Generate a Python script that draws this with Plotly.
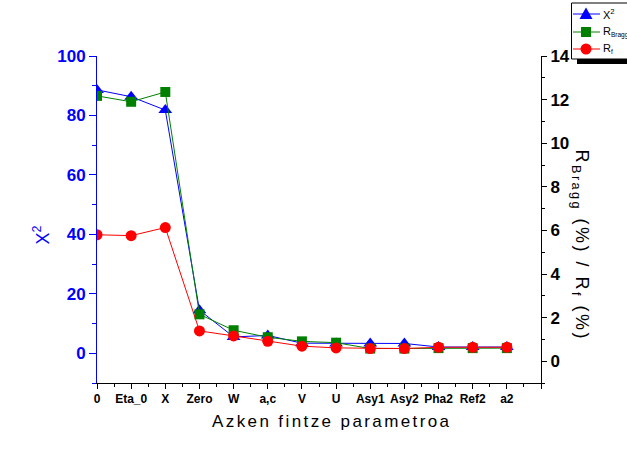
import plotly.graph_objects as go

# Refinement parameters (x axis categories)
categories = ["0", "Eta_0", "X", "Zero", "W", "a,c", "V", "U",
              "Asy1", "Asy2", "Pha2", "Ref2", "a2"]
# Goodness of fit chi^2 (left axis)
chi2 = [88.6, 86.3, 81.8, 14.5, 5.5, 6.0, 3.4, 3.3, 3.3, 3.3, 2.1, 2.1, 2.1]
# Agreement factors in % (right axis)
r_bragg = [12.17, 11.9, 12.35, 2.15, 1.42, 1.1, 0.91, 0.85, 0.58, 0.58, 0.6, 0.6, 0.6]
r_f = [5.8, 5.76, 6.13, 1.39, 1.16, 0.91, 0.69, 0.61, 0.58, 0.58, 0.64, 0.64, 0.64]
# Tick labels of the two value axes
chi2_ticks = [0, 20, 40, 60, 80, 100]
r_ticks = [0, 2, 4, 6, 8, 10, 12, 14]
# Series names
names = ["X<sup>2</sup>", "R<sub>Bragg</sub>", "R<sub>f</sub>"]
legend_names = ["X<sup>2</sup>",
                'R<sub><span style="font-size:6.5px">Bragg</span></sub>',
                'R<sub><span style="font-size:6.5px">f</span></sub>']

x = list(range(len(categories)))
x_alias = {i: f"<b>{c}</b>" for i, c in enumerate(categories)}
x_alias[len(categories)] = ""
y_alias = {v: f"<b>{v}</b>" for v in chi2_ticks}
y2_alias = {v: f"<b>{v}</b>" for v in r_ticks}

FONT = "Liberation Sans, Arial, sans-serif"
BLUE = "#0000FF"
GREEN = "#008000"
RED = "#FF0000"

fig = go.Figure()
fig.add_trace(go.Scatter(
    x=x, y=chi2, name=names[0], mode="lines+markers",
    line=dict(color=BLUE, width=1),
    marker=dict(symbol="triangle-up", size=12, color=BLUE),
    yaxis="y"))
fig.add_trace(go.Scatter(
    x=x, y=r_bragg, name=names[1], mode="lines+markers",
    line=dict(color=GREEN, width=1),
    marker=dict(symbol="square", size=10, color=GREEN),
    yaxis="y2"))
fig.add_trace(go.Scatter(
    x=x, y=r_f, name=names[2], mode="lines+markers",
    line=dict(color=RED, width=1),
    marker=dict(symbol="circle", size=11, color=RED),
    yaxis="y2"))

W, H = 627, 451
L, R, T, B = 97, 541, 56, 383
pw, ph = R - L, B - T


def px(v):
    return (v - L) / pw


def py(v):
    return (B - v) / ph


def spaced(text, sp):
    return f'<span style="letter-spacing:{sp}px">{text}</span>'


# Boxed legend with a drop shadow in the top-right corner
shapes = [
    dict(type="rect", xref="paper", yref="paper",
         x0=px(577), x1=px(640), y0=py(64), y1=py(8),
         fillcolor="black", line=dict(width=0), layer="above"),
    dict(type="rect", xref="paper", yref="paper",
         x0=px(571.5), x1=px(636), y0=py(59), y1=py(3),
         fillcolor="white", line=dict(color="black", width=1), layer="above"),
]
annotations = []
legend_rows = [14, 32, 49]
colors = [BLUE, GREEN, RED]
lx0, lx1, mx = 573, 600, 586
for row, col, name in zip(legend_rows, colors, legend_names):
    shapes.append(dict(type="line", xref="paper", yref="paper",
                       x0=px(lx0), x1=px(lx1), y0=py(row), y1=py(row),
                       line=dict(color=col, width=1), layer="above"))
    annotations.append(dict(text=name, xref="paper", yref="paper",
                            x=px(601), y=py(row), xanchor="left",
                            yanchor="middle", showarrow=False,
                            font=dict(size=11, color="black", family=FONT)))
# legend symbols: triangle, square, circle
r0, r1, r2 = legend_rows
shapes.append(dict(type="path", xref="paper", yref="paper",
                   path=(f"M {px(mx - 6.5)} {py(r0 + 5)} L {px(mx + 6.5)} {py(r0 + 5)} "
                         f"L {px(mx)} {py(r0 - 6.5)} Z"),
                   fillcolor=BLUE, line=dict(width=0), layer="above"))
shapes.append(dict(type="rect", xref="paper", yref="paper",
                   x0=px(mx - 5), x1=px(mx + 5), y0=py(r1 + 5), y1=py(r1 - 5),
                   fillcolor=GREEN, line=dict(width=0), layer="above"))
shapes.append(dict(type="circle", xref="paper", yref="paper",
                   x0=px(mx - 5.5), x1=px(mx + 5.5), y0=py(r2 + 5.5), y1=py(r2 - 5.5),
                   fillcolor=RED, line=dict(width=0), layer="above"))

annotations += [
    dict(text="X<sup>2</sup>", xref="paper", yref="paper",
         x=px(28), y=py(235), textangle=-90, showarrow=False,
         font=dict(size=18, color=BLUE, family=FONT)),
    dict(text=spaced("R<sub>Bragg</sub> (%) / R<sub>f</sub> (%)", 2.5),
         xref="paper", yref="paper", x=px(594), y=py(245),
         textangle=90, showarrow=False,
         font=dict(size=18, color="black", family=FONT)),
    dict(text=spaced("Azken fintze parametroa", 2.4), xref="paper", yref="paper",
         x=px(331), y=py(433), showarrow=False,
         font=dict(size=17, color="black", family=FONT)),
]

fig.update_layout(
    width=W, height=H,
    margin=dict(l=L, r=W - R, t=T, b=H - B, autoexpand=False),
    paper_bgcolor="white", plot_bgcolor="white",
    font=dict(family=FONT, color="black"),
    showlegend=False,
    xaxis=dict(
        range=[0, 13], tickmode="linear", tick0=0, dtick=1,
        labelalias=x_alias,
        showgrid=False, zeroline=False,
        showline=True, linecolor="black", linewidth=1,
        ticks="outside", ticklen=5, tickcolor="black",
        tickfont=dict(size=12, family=FONT),
        minor=dict(ticks="outside", ticklen=3, dtick=0.5, tick0=0,
                   tickcolor="black", showgrid=False),
    ),
    xaxis2=dict(
        overlaying="x", side="top", range=[0, 13],
        tickmode="linear", tick0=0, dtick=1,
        showticklabels=False, showgrid=False, zeroline=False,
        showline=True, linecolor="black", linewidth=1,
        ticks="inside", ticklen=5, tickcolor="black",
        minor=dict(ticks="inside", ticklen=3, dtick=0.5, tick0=0,
                   tickcolor="black", showgrid=False),
    ),
    yaxis=dict(
        range=[-10, 100], tickmode="linear", tick0=0, dtick=20,
        labelalias=y_alias,
        showgrid=False, zeroline=False,
        showline=True, linecolor=BLUE, linewidth=1,
        ticks="outside", ticklen=7, tickcolor=BLUE,
        tickfont=dict(size=17, family=FONT, color=BLUE),
        minor=dict(ticks="outside", ticklen=4, dtick=10, tick0=0,
                   tickcolor=BLUE, showgrid=False),
    ),
    yaxis2=dict(
        overlaying="y", side="right", range=[-1, 14],
        tickmode="linear", tick0=0, dtick=2,
        labelalias=y2_alias,
        showgrid=False, zeroline=False,
        showline=True, linecolor="black", linewidth=1,
        ticks="outside", ticklen=5, tickcolor="black",
        tickfont=dict(size=17, family=FONT, color="black"),
        minor=dict(ticks="outside", ticklen=3, dtick=1, tick0=0,
                   tickcolor="black", showgrid=False),
    ),
    annotations=annotations,
    shapes=shapes,
)

fig.write_html("out.html")
